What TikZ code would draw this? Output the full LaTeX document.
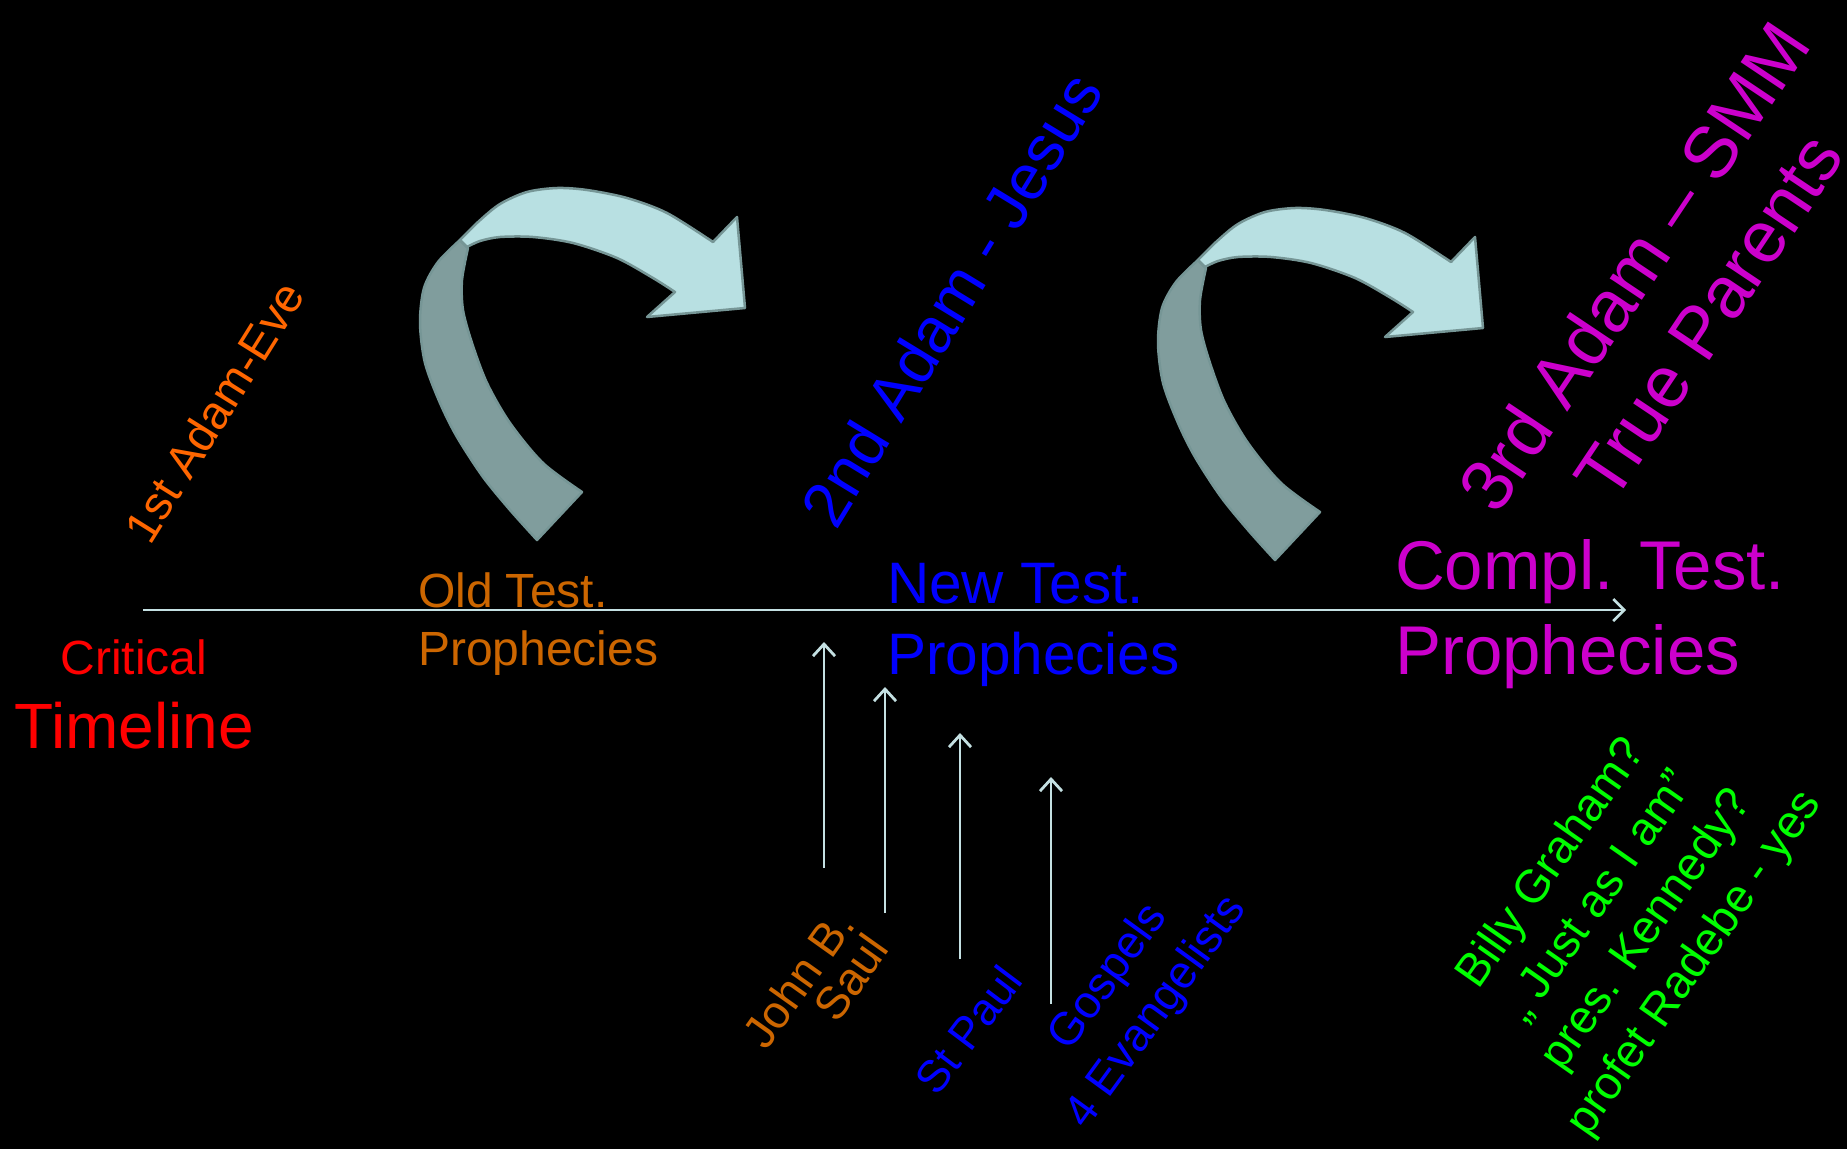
\documentclass[tikz,border=0pt]{standalone}
\usepackage{fontspec}
\setmainfont{Liberation Sans}
\usetikzlibrary{positioning,arrows.meta}
\definecolor{critred}{RGB}{255,0,0}
\definecolor{otorange}{RGB}{204,102,0}
\definecolor{adamorange}{RGB}{255,102,0}
\definecolor{ntblue}{RGB}{0,0,255}
\definecolor{ctmagenta}{RGB}{204,0,204}
\definecolor{lime}{RGB}{0,255,0}
\definecolor{axiscol}{RGB}{196,224,226}
\definecolor{ribbonlight}{RGB}{184,224,226}
\definecolor{ribbondark}{RGB}{128,157,157}
\definecolor{ribbonedge}{RGB}{118,150,150}

\tikzset{
  bentarrow/.pic={
    % back part of the ribbon
    \filldraw[fill=ribbondark, draw=ribbonedge, line width=2.5pt, line join=round]
      plot[smooth] coordinates {(537,540) (510,510) (483,477) (457,437) (440,403) (425,363) (420,323) (424,288) (438,262) (460,240)}
      -- plot[smooth] coordinates {(468,248) (462,280) (463,310) (472,343) (487,383) (510,423) (543,463) (582,492)}
      -- cycle;
    % front part with the head
    \filldraw[fill=ribbonlight, draw=ribbonedge, line width=2.5pt, line join=round]
      plot[smooth] coordinates {(460,240) (478,222) (500,204) (527,192) (557,188) (587,190) (627,198) (667,213) (713,242)}
      -- (737,217) -- (745,308) -- (647,317) -- (675,292)
      -- plot[smooth] coordinates {(675,292) (653,278) (617,258) (573,243) (533,237) (500,237) (480,241) (467,247)}
      -- cycle;
  }
}

\begin{document}
\begin{tikzpicture}[x=1pt, y=-1pt,
    txt/.style={inner sep=0pt, outer sep=0pt, align=center},
    timeaxis/.style={draw=axiscol, line width=2.5pt, -{Straight Barb[length=11pt, width=22pt, line width=2.5pt]}},
    uparrow/.style={draw=axiscol, line width=1.6pt, -{Straight Barb[length=12pt, width=22pt, line width=2.8pt]}}]
  \fill[black] (0,0) rectangle (1847,1149);
  \useasboundingbox (0,0) rectangle (1847,1149);

  % the two big bent arrows
  \pic at (0,0) {bentarrow};
  \pic at (738,20) {bentarrow};

  % timeline
  \coordinate (tstart) at (143,610);
  \coordinate (tend) at (1626,610);
  \draw[timeaxis] (tstart) -- (tend);

  \node[txt, text=critred, font=\fontsize{48}{58}\selectfont, anchor=base] (crit) at (134,674) {Critical};
  \node[txt, text=critred, font=\fontsize{64}{76}\selectfont, anchor=base] (tline) at (134,748) {Timeline};

  \node[txt, text=otorange, font=\fontsize{48}{58}\selectfont, align=left, anchor=west] (oldtest) at (418,624) {Old Test.\\Prophecies};
  \node[txt, text=ntblue, font=\fontsize{58.5}{71}\selectfont, align=left, anchor=west] (newtest) at (887,625) {New Test.\\Prophecies};
  \node[txt, text=ctmagenta, font=\fontsize{69}{85}\selectfont, align=left, anchor=west] (compltest) at (1395,614) {Compl. Test.\\Prophecies};

  % the three Adams
  \node[txt, text=adamorange, font=\fontsize{47}{56}\selectfont, rotate=58] (adamone) at (214,412) {1st Adam-Eve};
  \node[txt, text=ntblue, font=\fontsize{64}{76}\selectfont, rotate=58.6] (adamtwo) at (951,299) {2nd Adam - Jesus};
  \node[txt, text=ctmagenta, font=\fontsize{73}{89}\selectfont, rotate=56.2] (adamthree) at (1671,291) {3rd Adam – SMM\\True Parents};

  % witnesses below the line
  \foreach \k/\x/\ylo/\yhi in {1/824/868/642, 2/885/913/687, 3/960/959/733, 4/1051/1004/777}{
    \coordinate (foot\k) at (\x,\ylo);
    \coordinate (head\k) at (\x,\yhi);
    \draw[uparrow] (foot\k) -- (head\k);
  }
  \node[txt, text=otorange, font=\fontsize{46}{42}\selectfont, align=right, rotate=54.6] (john) at (815,991) {John B.\\Saul};
  \node[txt, text=ntblue, font=\fontsize{45}{56}\selectfont, rotate=53] (paul) at (968,1030) {St Paul};
  \node[txt, text=ntblue, font=\fontsize{46}{59}\selectfont, rotate=54] (gospels) at (1133,995) {Gospels\\4 Evangelists};

  \node[txt, text=lime, font=\fontsize{46.5}{58}\selectfont, rotate=55] (witness) at (1624,914) {Billy Graham?\\„ Just as I am”\\pres. Kennedy?\\profet Radebe - yes};
\end{tikzpicture}
\end{document}
